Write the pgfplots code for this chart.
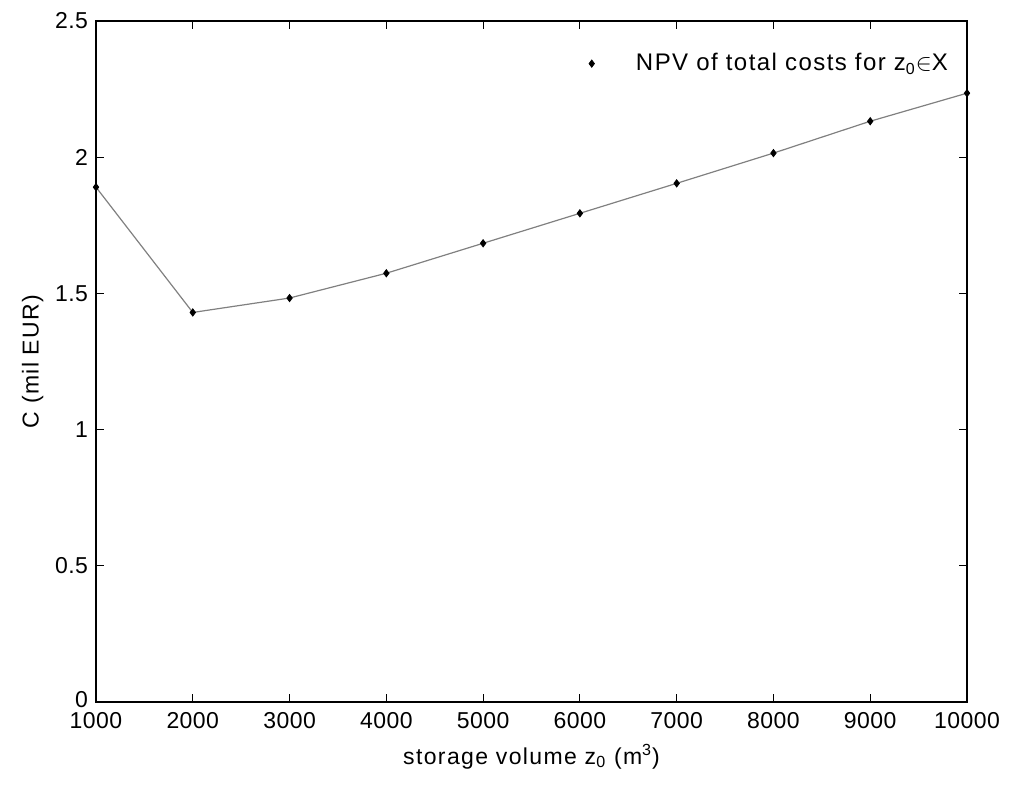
\documentclass[border=0pt]{standalone}
\usepackage{fontspec}
\setmainfont{Liberation Sans}[LetterSpace=2]
\newfontfamily\lbl{Liberation Sans}[LetterSpace=6]
\usepackage{pgfplots}
\pgfplotsset{compat=1.18}
\begin{document}
\fontsize{11.5}{13.5}\selectfont
\begin{tikzpicture}
\begin{axis}[
  scale only axis,
  width=435.5pt, height=340.5pt,
  xmin=1000, xmax=10000, ymin=0, ymax=2.5,
  xtick={1000,2000,...,10000},
  xticklabels={1000,2000,3000,4000,5000,6000,7000,8000,9000,10000},
  scaled x ticks=false,
  ytick={0,0.5,1,1.5,2,2.5},
  yticklabels={\raisebox{3pt}{0},0.5,1,1.5,2,2.5},
  tick align=inside,
  major tick length=4pt,
  axis line style={line width=0.8pt},
  every tick/.style={line width=0.6pt, black},
  /pgf/number format/assume math mode=true,
  /pgf/number format/1000 sep={},
  tick label style={font=\fontsize{11.5}{13.5}\selectfont},
  xticklabel style={yshift=-1pt},
  label style={font=\lbl\fontsize{11.5}{13.5}\selectfont},
  xlabel={storage volume z\textsubscript{0} (m\textsuperscript{3})},
  ylabel={C (mil EUR)},
  xlabel style={yshift=0pt},
  ylabel style={yshift=-2pt},
  legend style={draw=none, fill=none, at={(0.99,0.965)}, anchor=north east,
    font=\lbl\fontsize{12}{14}\selectfont},
  legend cell align=left,
  legend image code/.code={\draw[#1] (0pt,0pt) (0.25cm,0cm) plot coordinates {(0.25cm,0cm)} (0.95cm,0cm);},
]
\addplot[color={rgb,255:red,128;green,128;blue,128}, line width=0.6pt, forget plot] coordinates {
(1000,1.89) (2000,1.43) (3000,1.483) (4000,1.574) (5000,1.684) (6000,1.794) (7000,1.904) (8000,2.015) (9000,2.132) (10000,2.235)
};
\addplot[only marks, mark=diamond*, mark size=1.8pt, black] coordinates {
(1000,1.89) (2000,1.43) (3000,1.483) (4000,1.574) (5000,1.684) (6000,1.794) (7000,1.904) (8000,2.015) (9000,2.132) (10000,2.235)
};
\addlegendentry{NPV of total costs for z\textsubscript{0}$\in$X}
\coordinate (sw) at (rel axis cs:0,0);
\coordinate (ne) at (rel axis cs:1,1);
\end{axis}
\pgfresetboundingbox
\path ([shift={(-48pt,-42pt)}]sw) rectangle ([shift={(21.5pt,10.5pt)}]ne);
\end{tikzpicture}
\end{document}
